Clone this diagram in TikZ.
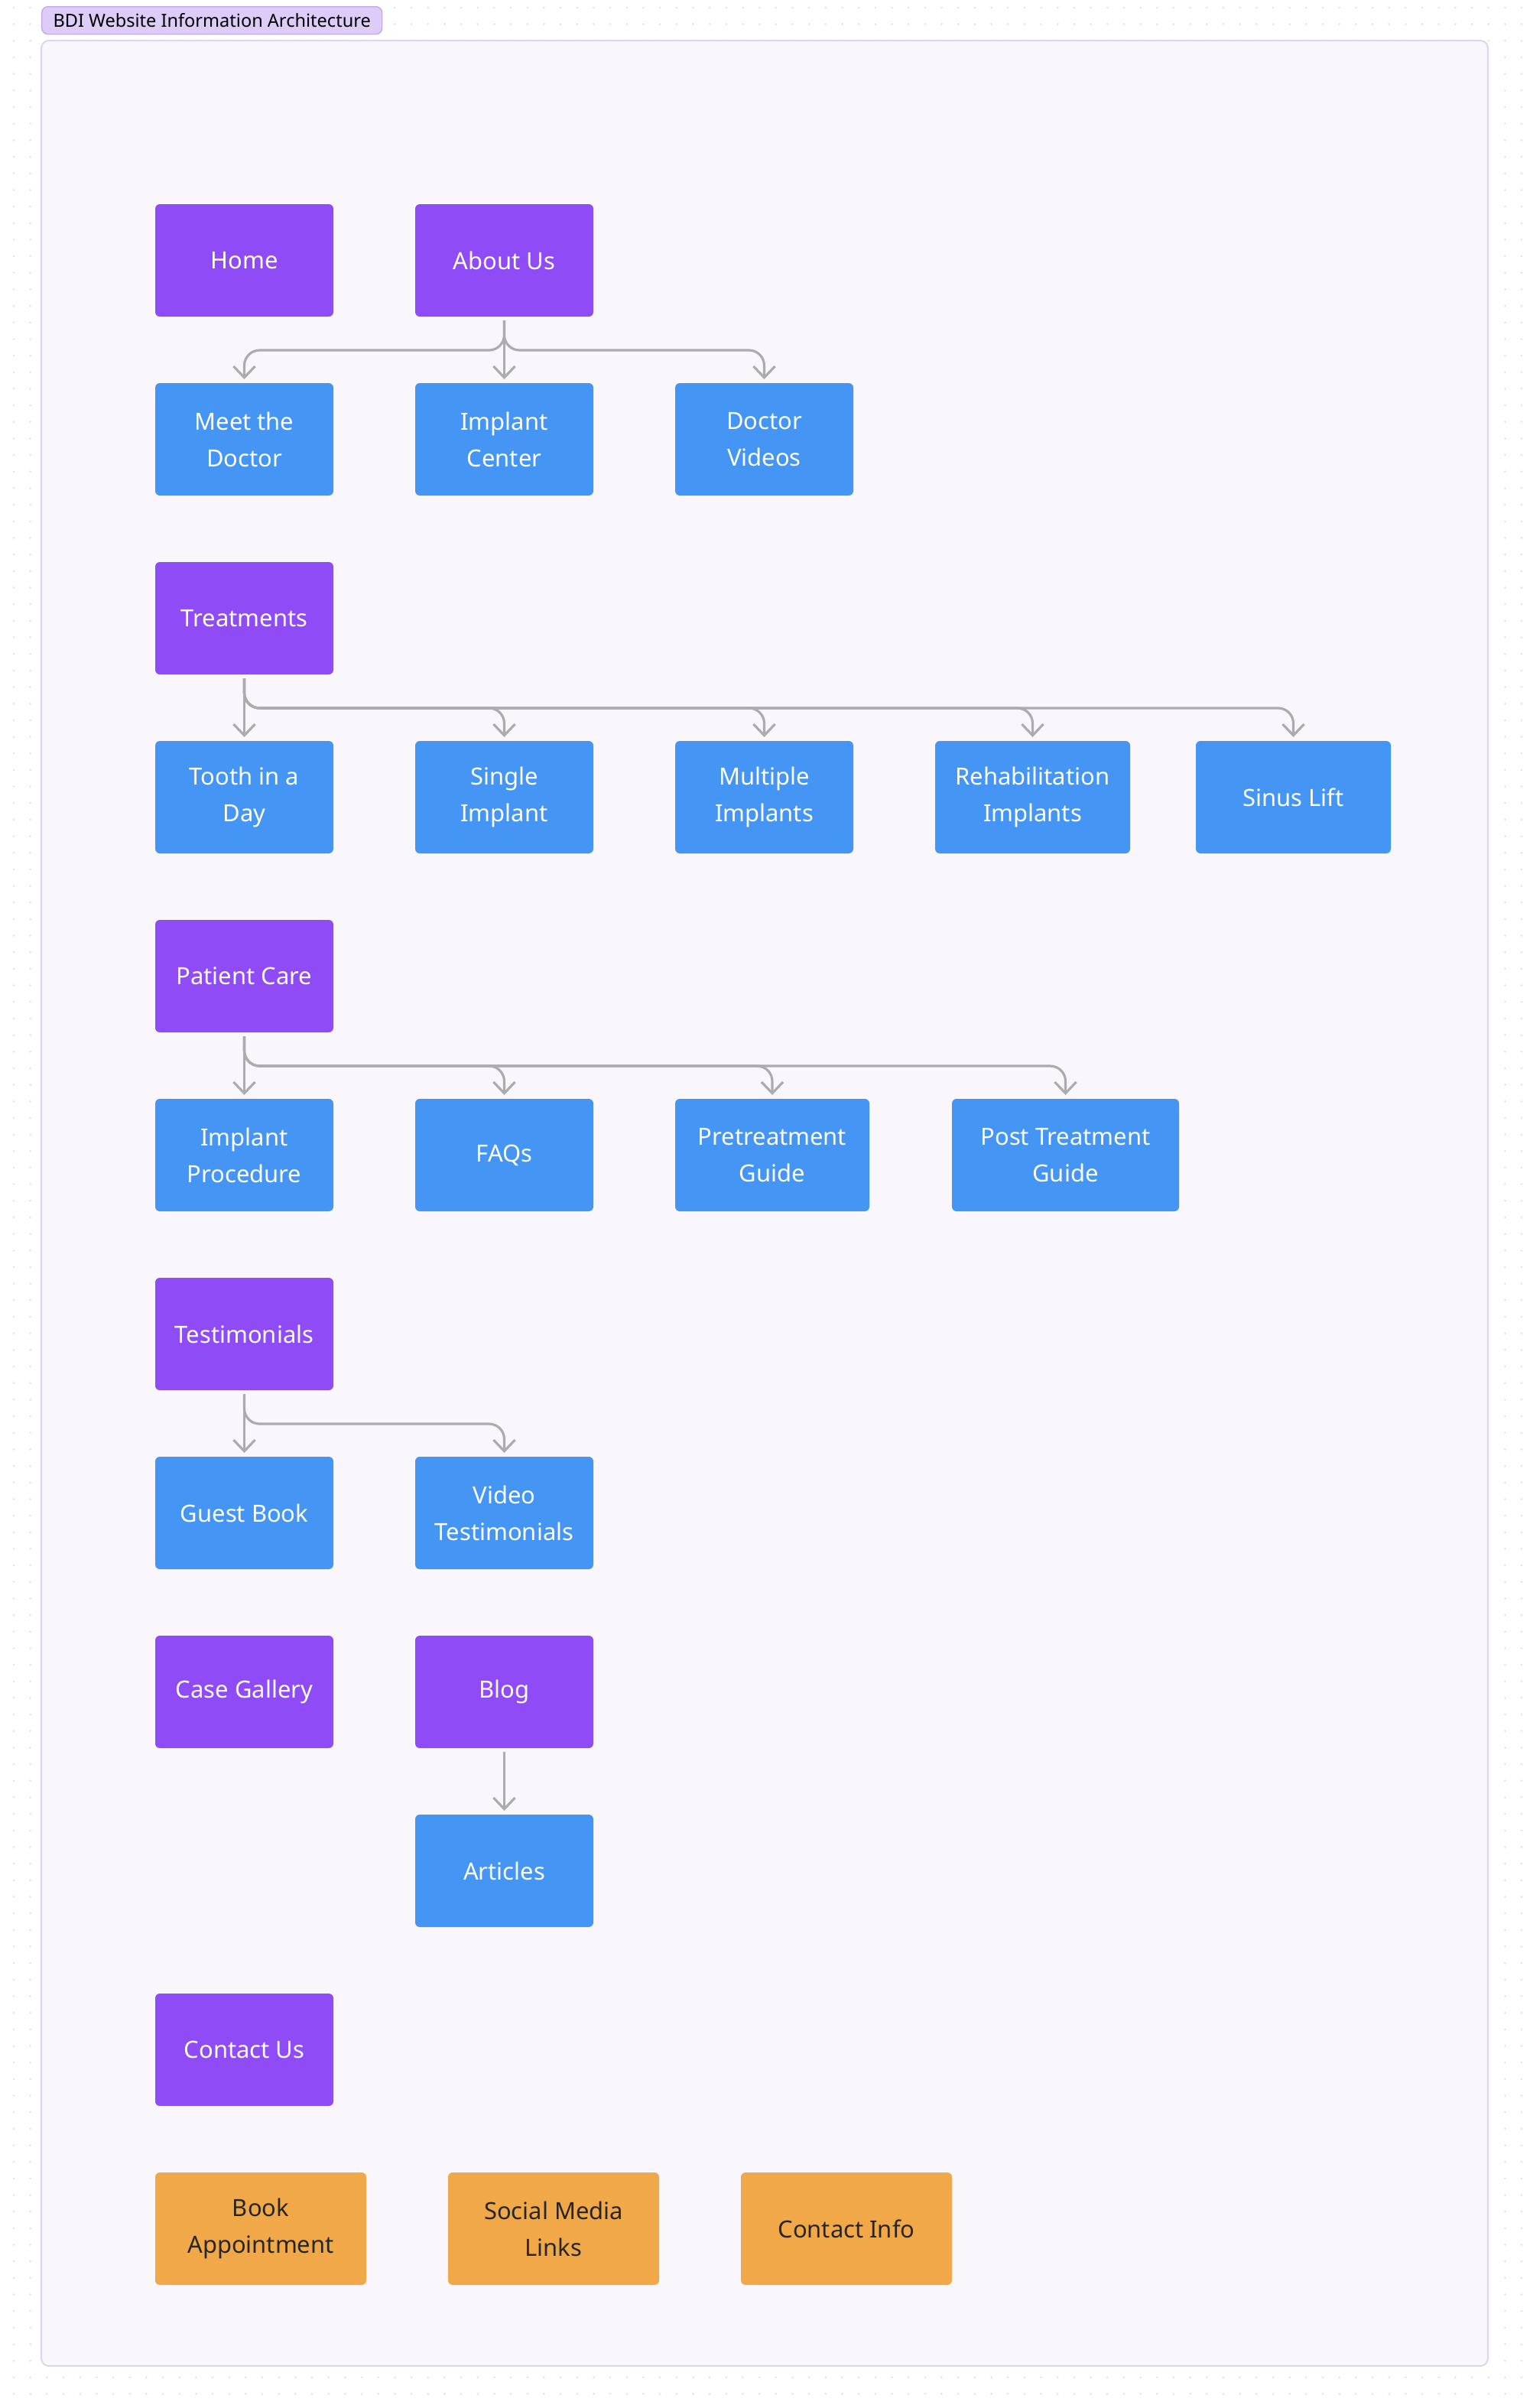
\documentclass[tikz,border=0pt]{standalone}
\usepackage{fontspec}
\setmainfont{Noto Sans}
\usetikzlibrary{arrows.meta,positioning}
\definecolor{section}{HTML}{8E4BF6}
\definecolor{page}{HTML}{4596F4}
\definecolor{action}{HTML}{F0A848}
\definecolor{linkgray}{HTML}{ACACB0}
\definecolor{canvas}{HTML}{F9F6FC}
\definecolor{canvasline}{HTML}{DCD8EE}
\definecolor{pill}{HTML}{DDCBF8}
\definecolor{pillline}{HTML}{C3ABEA}
\definecolor{griddot}{HTML}{E3E3E8}

\tikzset{
  box/.style={rounded corners=0.06cm, minimum width=2.33cm, minimum height=1.47cm,
    inner sep=0pt, outer sep=0pt, align=center, font=\fontsize{8.8}{13.6}\selectfont},
  sectionbox/.style={box, fill=section, text=white},
  pagebox/.style={box, fill=page, text=white},
  actionbox/.style={box, fill=action, text=black!85, minimum width=2.76cm},
  link/.style={line width=0.9pt, draw=linkgray, rounded corners=0.2cm,
    -{Straight Barb[length=4.2pt,width=8pt]}},
}

\begin{document}
\begin{tikzpicture}
  \useasboundingbox (0,0) rectangle (20,-31.49);
  % dotted canvas around the frame
  \foreach \i in {0,...,91}
    \foreach \j in {0,1,2,143,144}
      \fill[griddot] (0.18+\i*0.2167,-0.10-\j*0.2167) circle (0.015);
  \foreach \j in {3,...,142}
    \foreach \i in {0,1,90,91}
      \fill[griddot] (0.18+\i*0.2167,-0.10-\j*0.2167) circle (0.015);
  \draw[canvasline, fill=canvas, line width=0.6pt, rounded corners=0.1cm] (0.54,-0.53) rectangle (19.46,-30.94);
  \node[draw=pillline, fill=pill, rounded corners=0.08cm, anchor=north west, minimum width=4.45cm,
    minimum height=0.36cm, inner sep=0pt, font=\fontsize{6.7}{8}\selectfont] (title) at (0.54,-0.08)
    {BDI Website Information Architecture};

  % sections and pages
  \node[sectionbox, anchor=north west] (home) at (2.03,-2.67) {Home};
  \node[sectionbox, right=1.07cm of home] (about) {About Us};
  \node[pagebox, below=0.87cm of home] (doctor) {Meet the\\Doctor};
  \node[pagebox, right=1.07cm of doctor] (center) {Implant\\Center};
  \node[pagebox, right=1.07cm of center] (videos) {Doctor\\Videos};

  \node[sectionbox, below=0.87cm of doctor] (treat) {Treatments};
  \node[pagebox, below=0.87cm of treat] (tooth) {Tooth in a\\Day};
  \node[pagebox, right=1.07cm of tooth] (single) {Single\\Implant};
  \node[pagebox, right=1.07cm of single] (multiple) {Multiple\\Implants};
  \node[pagebox, minimum width=2.55cm, right=1.07cm of multiple] (rehab) {Rehabilitation\\Implants};
  \node[pagebox, minimum width=2.55cm, right=0.86cm of rehab] (sinus) {Sinus Lift};

  \node[sectionbox, below=0.87cm of tooth] (care) {Patient Care};
  \node[pagebox, below=0.87cm of care] (procedure) {Implant\\Procedure};
  \node[pagebox, right=1.07cm of procedure] (faqs) {FAQs};
  \node[pagebox, minimum width=2.54cm, right=1.07cm of faqs] (pre) {Pretreatment\\Guide};
  \node[pagebox, minimum width=2.97cm, right=1.08cm of pre] (post) {Post Treatment\\Guide};

  \node[sectionbox, below=0.87cm of procedure] (testi) {Testimonials};
  \node[pagebox, below=0.87cm of testi] (guest) {Guest Book};
  \node[pagebox, right=1.07cm of guest] (vtesti) {Video\\Testimonials};

  \node[sectionbox, below=0.87cm of guest] (gallery) {Case Gallery};
  \node[sectionbox, right=1.07cm of gallery] (blog) {Blog};
  \node[pagebox, below=0.87cm of blog] (articles) {Articles};

  \node[sectionbox, below=3.21cm of gallery] (contact) {Contact Us};
  \node[actionbox, below=0.87cm of contact.south west, anchor=north west] (book) {Book\\Appointment};
  \node[actionbox, right=1.07cm of book] (social) {Social Media\\Links};
  \node[actionbox, right=1.07cm of social] (info) {Contact Info};

  % connectors
  \draw[link] ([yshift=-0.05cm]about.south) -- ([yshift=0.05cm]center.north);
  \foreach \c in {doctor,videos}
    \draw[link] ([yshift=-0.05cm]about.south) |- ([yshift=0.43cm]\c.north) -- ([yshift=0.05cm]\c.north);
  \draw[link] ([yshift=-0.05cm]treat.south) -- ([yshift=0.05cm]tooth.north);
  \foreach \c in {single,multiple,rehab,sinus}
    \draw[link] ([yshift=-0.05cm]treat.south) |- ([yshift=0.43cm]\c.north) -- ([yshift=0.05cm]\c.north);
  \draw[link] ([yshift=-0.05cm]care.south) -- ([yshift=0.05cm]procedure.north);
  \foreach \c in {faqs,pre,post}
    \draw[link] ([yshift=-0.05cm]care.south) |- ([yshift=0.43cm]\c.north) -- ([yshift=0.05cm]\c.north);
  \draw[link] ([yshift=-0.05cm]testi.south) -- ([yshift=0.05cm]guest.north);
  \draw[link] ([yshift=-0.05cm]testi.south) |- ([yshift=0.43cm]vtesti.north) -- ([yshift=0.05cm]vtesti.north);
  \draw[link] ([yshift=-0.05cm]blog.south) -- ([yshift=0.05cm]articles.north);
\end{tikzpicture}
\end{document}
